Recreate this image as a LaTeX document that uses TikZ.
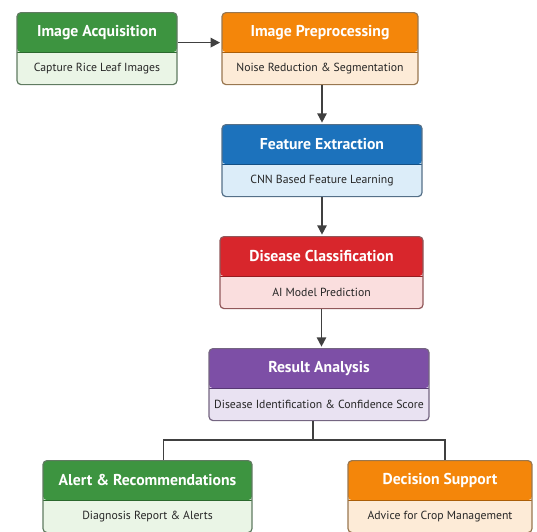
\documentclass[tikz,border=0pt]{standalone}
\usepackage{fontspec}
\setmainfont{PT Sans}
\usepackage{tikz}
\usetikzlibrary{arrows.meta,positioning,calc}

\definecolor{acqhead}{HTML}{3D9440}
\definecolor{acqbody}{HTML}{EAF5E6}
\definecolor{prehead}{HTML}{F4860A}
\definecolor{prebody}{HTML}{FDEBD7}
\definecolor{feahead}{HTML}{1C72BC}
\definecolor{feabody}{HTML}{DCEDF9}
\definecolor{clshead}{HTML}{D8262C}
\definecolor{clsbody}{HTML}{FADEDE}
\definecolor{reshead}{HTML}{7D4FA6}
\definecolor{resbody}{HTML}{E9E2F2}

\newdimen\pxu \pxu=0.75pt

\tikzset{
  stagebox/.style={draw=#1!45!black!70, line width=.9pt, rounded corners=3pt,
    minimum height=72\pxu, inner sep=0pt, anchor=north,
    path picture={\fill[#1] (path picture bounding box.north west) rectangle
      ($(path picture bounding box.north east)!0.55!(path picture bounding box.south east)$);
      \draw[#1!70!black, line width=1pt] ($(path picture bounding box.north west)!0.55!(path picture bounding box.south west)$) --
      ($(path picture bounding box.north east)!0.55!(path picture bounding box.south east)$);}},
  headtext/.style={font=\fontsize{11.8}{14}\selectfont\bfseries, text=white},
  subtext/.style={font=\fontsize{8.8}{10}\selectfont, text=black!85},
  flow/.style={-{Triangle[length=7pt,width=7pt]}, line width=1.3pt, black!75, shorten >=1pt},
  link/.style={line width=1.3pt, black!75},
}

% name, centre x, top y, width, head colour, body colour, title, subtitle
\newcommand{\stage}[8]{%
  \node[stagebox=#5, fill=#6, minimum width=#4\pxu] (#1) at (#2,#3) {};
  \node[headtext] (#1-t) at ($(#1.north)!0.275!(#1.south)$) {#7};
  \node[subtext] (#1-s) at ($(#1.north)!0.775!(#1.south)$) {#8};
}

\begin{document}
\begin{tikzpicture}[x=0.75pt,y=-0.75pt]
\useasboundingbox (0,0) rectangle (537,532);

\stage{acq}{97}{12}{160}{acqhead}{acqbody}{Image Acquisition}{Capture Rice Leaf Images}
\stage{pre}{320}{12}{196}{prehead}{prebody}{Image Preprocessing}{Noise Reduction \& Segmentation}
\stage{fea}{322}{124}{200}{feahead}{feabody}{Feature Extraction}{CNN Based Feature Learning}
\stage{cls}{321.5}{236}{203}{clshead}{clsbody}{Disease Classification}{AI Model Prediction}
\stage{res}{319}{348}{220}{reshead}{resbody}{Result Analysis}{Disease Identification \& Confidence Score}
\stage{alr}{147.5}{460}{209}{acqhead}{acqbody}{Alert \& Recommendations}{Diagnosis Report \& Alerts}
\stage{dec}{440}{460}{184}{prehead}{prebody}{Decision Support}{Advice for Crop Management}

% main flow
\draw[flow] ([yshift=6\pxu]acq.east) -- ([yshift=6\pxu]acq.east -| pre.west);
\draw[flow] (fea.north |- pre.south) -- (fea.north);
\draw[flow] (fea.south) -- (fea.south |- cls.north);
\draw[flow] (cls.south) -- (cls.south |- res.north);

% branches
\draw[link] ([xshift=-6\pxu]res.south) -- ++(0,19) coordinate (bus);
\draw[link] ([xshift=16\pxu]alr.north) |- (bus) -| ([xshift=5\pxu]dec.north);
\end{tikzpicture}
\end{document}
